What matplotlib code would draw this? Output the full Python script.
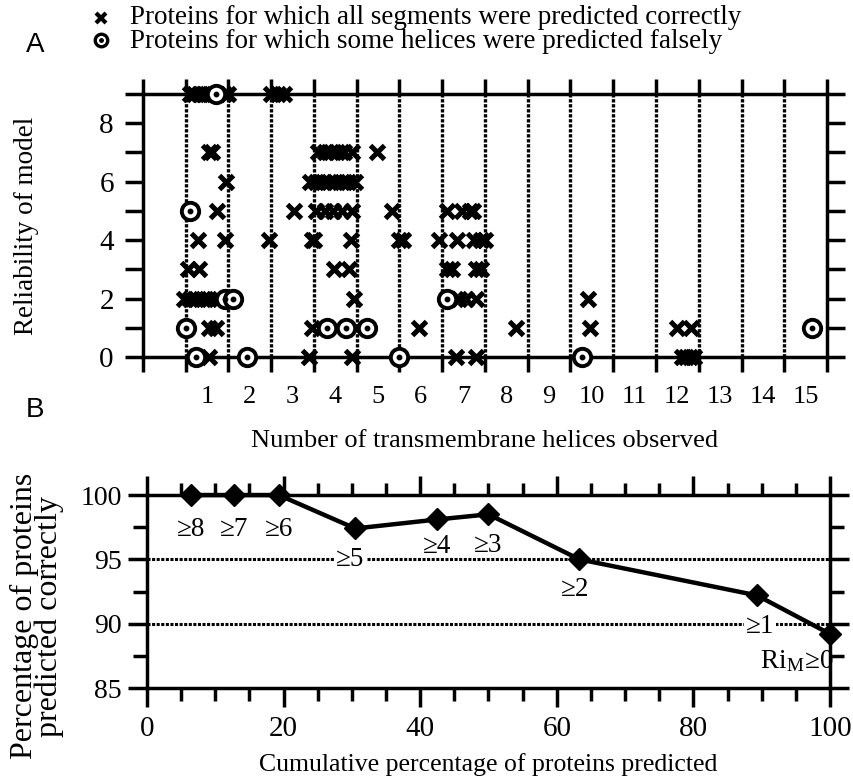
import matplotlib.pyplot as plt
import matplotlib.ticker as ticker

plt.rcParams['font.family'] = ['Liberation Serif', 'DejaVu Serif']
plt.rcParams['mathtext.fontset'] = 'stix'

# ---- panel A: reliability vs. number of helices ----
helix_counts = list(range(1, 16))
# proteins with all segments predicted correctly (crosses)
correct_x = [0.6, 0.7, 0.8, 0.9, 1.0, 1.1, 1.4, 1.5, 2.5, 2.65, 2.8,
             1.05, 1.12, 3.6, 3.75, 3.9, 4.05, 4.2, 4.4, 4.98,
             1.44, 3.4, 3.55, 3.7, 3.85, 4.0, 4.15, 4.3, 4.45,
             0.6, 1.23, 3.03, 3.55, 3.75, 3.95, 4.15, 4.4, 5.33, 6.6, 6.97, 7.15, 7.22,
             0.78, 1.43, 2.45, 3.46, 3.5, 4.37, 5.5, 5.58, 6.43, 6.85, 7.25, 7.4, 7.5,
             0.55, 0.8, 3.97, 4.32, 6.62, 6.72, 7.3, 7.4,
             0.45, 0.6, 0.75, 0.9, 1.05, 1.2, 4.44, 6.9, 7.05, 7.3, 9.9,
             1.04, 1.2, 3.46, 4.48, 5.96, 8.23, 9.95, 11.98, 12.33,
             0.75, 1.04, 3.38, 4.4, 6.83, 7.3, 12.1, 12.2, 12.3, 12.4]
correct_y = [9, 9, 9, 9, 9, 9, 9, 9, 9, 9, 9,
             7, 7, 7, 7, 7, 7, 7, 7, 7,
             6, 6, 6, 6, 6, 6, 6, 6, 6,
             5, 5, 5, 5, 5, 5, 5, 5, 5, 5, 5, 5, 5,
             4, 4, 4, 4, 4, 4, 4, 4, 4, 4, 4, 4, 4,
             3, 3, 3, 3, 3, 3, 3, 3,
             2, 2, 2, 2, 2, 2, 2, 2, 2, 2, 2,
             1, 1, 1, 1, 1, 1, 1, 1, 1,
             0, 0, 0, 0, 0, 0, 0, 0, 0, 0]
# proteins with some helices predicted falsely (circles)
false_x = [1.2, 0.6, 1.42, 1.6, 6.6, 0.5, 3.8, 4.25, 4.74, 15.15, 0.75, 1.93, 5.48, 9.78]
false_y = [9, 5, 2, 2, 2, 1, 1, 1, 1, 1, 0, 0, 0, 0]

# ---- panel B: cumulative accuracy ----
cum_pct = [6.5, 12.8, 19.3, 30.5, 42.5, 50.0, 63.3, 89.3, 100.0]
pct_correct = [100, 100, 100, 97.4, 98.1, 98.5, 95.0, 92.2, 89.2]
ri_labels = ['≥8', '≥7', '≥6', '≥5', '≥4', '≥3', '≥2', '≥1',
             'Ri$_\\mathregular{M}$≥0']

fig = plt.figure(figsize=(8.54, 7.77), dpi=100)

# ================= panel A =================
axA = fig.add_axes([0.1674, 0.5405, 0.801, 0.3385])
axA.set_xlim(-0.5, 15.5)
axA.set_ylim(0, 9)
for s in axA.spines.values():
    s.set_linewidth(2.5)

axA.vlines([k - 0.5 for k in helix_counts], 0, 9, colors='black',
           linestyles=(0, (1, 0.5)), linewidth=2.4, zorder=1)

axA.plot(correct_x, correct_y, linestyle='none', marker='x', markersize=10,
         markeredgewidth=3.6, color='black', clip_on=False, zorder=4)
axA.plot(false_x, false_y, linestyle='none', marker='o', markersize=12.5,
         markerfacecolor='white', markeredgecolor='black', markeredgewidth=2.8,
         clip_on=False, zorder=5)
axA.plot(false_x, false_y, linestyle='none', marker='o', markersize=3.2,
         color='black', clip_on=False, zorder=6)

axA.xaxis.set_major_locator(ticker.FixedLocator(helix_counts))
axA.xaxis.set_minor_locator(ticker.FixedLocator([k - 0.5 for k in range(0, 17)]))
axA.tick_params(axis='x', which='major', length=0, pad=21, labelsize=19)
axA.tick_params(axis='x', which='minor', length=11, width=2.5, direction='out',
                top=True, bottom=True)
axA.yaxis.set_major_locator(ticker.FixedLocator(range(0, 10)))
axA.yaxis.set_major_formatter(ticker.FuncFormatter(
    lambda v, p: str(int(v)) if int(v) % 2 == 0 and v < 9 else ''))
axA.tick_params(axis='y', which='major', length=13, width=2.5, direction='out',
                left=True, right=True, labelsize=21, pad=8)

axA.set_xlabel('Number of transmembrane helices observed', fontsize=19, labelpad=16)
axA.set_ylabel('Reliability of model', fontsize=19.5)
axA.yaxis.set_label_coords(-0.152, 0.5)

# legend drawn as in the figure
fig.text(0.041, 0.942, 'A', family='Liberation Sans', fontsize=20,
         ha='center', va='center')
fig.lines.append(plt.Line2D([0.118], [0.977], marker='x', markersize=7,
                            markeredgewidth=3, color='black',
                            transform=fig.transFigure))
fig.lines.append(plt.Line2D([0.118], [0.949], marker='o', markersize=9,
                            markerfacecolor='white', markeredgecolor='black',
                            markeredgewidth=2.4, transform=fig.transFigure))
fig.lines.append(plt.Line2D([0.118], [0.949], marker='o', markersize=2.5,
                            color='black', transform=fig.transFigure))
fig.text(0.152, 0.977, 'Proteins for which all segments were predicted correctly',
         fontsize=19.5, va='center', ha='left')
fig.text(0.152, 0.947, 'Proteins for which some helices were predicted falsely',
         fontsize=19.5, va='center', ha='left')

# ================= panel B =================
axB = fig.add_axes([0.172, 0.1145, 0.800, 0.2484])
axB.set_xlim(0, 100)
axB.set_ylim(85, 100)
for s in axB.spines.values():
    s.set_linewidth(2.5)

axB.hlines([95, 90], 0, 100, colors='black', linestyles=(0, (1, 0.5)),
           linewidth=2.2, zorder=1)
axB.plot(cum_pct, pct_correct, color='black', linewidth=3.2, marker='D',
         markersize=11.5, clip_on=False, zorder=5)

offsets = [(0, -34), (0, -34), (0, -34), (-5, -31), (0, -27), (0, -31),
           (-4, -30), (3, -31), (-33, -28)]
for xv, yv, lab, off in zip(cum_pct, pct_correct, ri_labels, offsets):
    bbox = None
    if lab in ('≥5', '≥1'):
        bbox = dict(facecolor='white', edgecolor='none', pad=1.5)
    axB.annotate(lab, (xv, yv), xytext=off, textcoords='offset pixels',
                 ha='center', va='center', fontsize=19.5, bbox=bbox, zorder=3)

axB.xaxis.set_major_locator(ticker.MultipleLocator(20))
axB.xaxis.set_minor_locator(ticker.MultipleLocator(5))
axB.tick_params(axis='x', which='major', length=14, width=2.5, direction='out',
                top=True, bottom=True, labelsize=21, pad=6)
axB.tick_params(axis='x', which='minor', length=9, width=2.5, direction='out',
                top=True, bottom=True)
axB.yaxis.set_major_locator(ticker.MultipleLocator(5))
axB.yaxis.set_minor_locator(ticker.MultipleLocator(2.5))
axB.tick_params(axis='y', which='major', length=14, width=2.5, direction='out',
                left=True, right=True, labelsize=20, pad=4)
axB.tick_params(axis='y', which='minor', length=10, width=2.5, direction='out',
                left=True, right=True)

axB.set_xlabel('Cumulative percentage of proteins predicted', fontsize=18.5,
               labelpad=8)
fig.text(0.043, 0.207, 'Percentage of proteins\npredicted correctly',
         rotation=90, ha='center', va='center', fontsize=23, linespacing=0.8)
fig.text(0.041, 0.472, 'B', family='Liberation Sans', fontsize=20,
         ha='center', va='center')

fig.savefig('out.png', dpi=100)
